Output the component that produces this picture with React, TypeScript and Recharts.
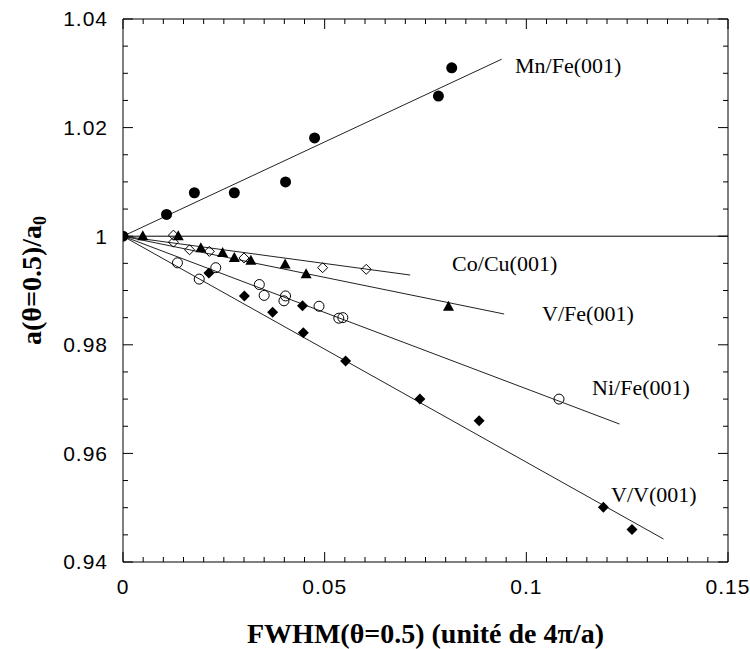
import {
  ComposedChart,
  XAxis,
  YAxis,
  Scatter,
  Line,
  ReferenceLine,
  ReferenceDot,
} from "recharts";

// axis ticks
const xTicks = [
  0, 0.005, 0.01, 0.015, 0.02, 0.025, 0.03, 0.035, 0.04, 0.045, 0.05, 0.055,
  0.06, 0.065, 0.07, 0.075, 0.08, 0.085, 0.09, 0.095, 0.1, 0.105, 0.11, 0.115,
  0.12, 0.125, 0.13, 0.135, 0.14, 0.145, 0.15,
];
const yTicks = [
  0.94, 0.945, 0.95, 0.955, 0.96, 0.965, 0.97, 0.975, 0.98, 0.985, 0.99, 0.995,
  1, 1.005, 1.01, 1.015, 1.02, 1.025, 1.03, 1.035, 1.04,
];

// Mn/Fe(001) - filled circles
const mnFeX = [0, 0.0108, 0.0177, 0.0276, 0.0403, 0.0475, 0.0782, 0.0815];
const mnFeY = [1.0, 1.004, 1.008, 1.008, 1.01, 1.0181, 1.0258, 1.031];
const mnFeFitX = [0, 0.0939];
const mnFeFitY = [1, 1.0326];

// Co/Cu(001) - open diamonds
const coCuX = [0.0125, 0.0125, 0.0165, 0.0214, 0.03, 0.0495, 0.0603];
const coCuY = [1.0002, 0.9989, 0.9975, 0.9972, 0.996, 0.9942, 0.9939];
const coCuFitX = [0, 0.0712];
const coCuFitY = [1, 0.99285];

// V/Fe(001) - filled triangles
const vFeX = [0.0049, 0.0137, 0.0193, 0.0247, 0.0276, 0.0317, 0.0402, 0.0454, 0.0807];
const vFeY = [1.0, 1.0, 0.9978, 0.9969, 0.996, 0.9955, 0.9948, 0.993, 0.987];
const vFeFitX = [0, 0.0945];
const vFeFitY = [1, 0.98567];

// Ni/Fe(001) - open circles
const niFeX = [0.0135, 0.0189, 0.023, 0.0338, 0.035, 0.0403, 0.0399, 0.0486, 0.0535, 0.0545, 0.1081];
const niFeY = [0.9951, 0.9921, 0.9942, 0.9911, 0.9891, 0.989, 0.9881, 0.9871, 0.9849, 0.985, 0.97];
const niFeFitX = [0, 0.1231];
const niFeFitY = [1, 0.96541];

// V/V(001) - filled diamonds
const vvX = [0.0213, 0.0301, 0.0371, 0.0445, 0.0447, 0.0552, 0.0736, 0.0883, 0.1191, 0.1262];
const vvY = [0.9932, 0.989, 0.986, 0.9872, 0.9822, 0.977, 0.97, 0.966, 0.9501, 0.946];
const vvFitX = [0, 0.134];
const vvFitY = [1, 0.94424];

// curve labels
const curveNames = ["Mn/Fe(001)", "Co/Cu(001)", "V/Fe(001)", "Ni/Fe(001)", "V/V(001)"];
const curveLabelX = [0.0972, 0.0816, 0.1039, 0.1163, 0.121];
const curveLabelY = [1.0315, 0.99506, 0.98585, 0.97222, 0.95241];

const pts = (xs: number[], ys: number[]) => xs.map((x, i) => ({ x, y: ys[i] }));

const SERIF = "'Liberation Serif', 'Times New Roman', serif";
const SANS = "'Liberation Sans', Arial, sans-serif";

const isMajor = (v: number, step: number) =>
  Math.abs(v / step - Math.round(v / step)) < 1e-6;
const fmt = (v: number) => String(Math.round(v * 1000) / 1000);

function BottomTick(props: any) {
  const { x, y, payload } = props;
  const major = isMajor(payload.value, 0.05);
  return (
    <g>
      <line x1={x} y1={y} x2={x} y2={y - (major ? 10 : 5)} stroke="#000" />
      {major && (
        <text x={x} y={y + 25} dy="0.35em" textAnchor="middle" fontFamily={SANS}
          fontSize={21} letterSpacing={1} fill="#000">
          {fmt(payload.value)}
        </text>
      )}
    </g>
  );
}

function TopTick(props: any) {
  const { x, y, payload } = props;
  const major = isMajor(payload.value, 0.05);
  return <line x1={x} y1={y} x2={x} y2={y + (major ? 10 : 5)} stroke="#000" />;
}

function LeftTick(props: any) {
  const { x, y, payload } = props;
  const major = isMajor(payload.value, 0.02);
  return (
    <g>
      <line x1={x} y1={y} x2={x + (major ? 10 : 5)} y2={y} stroke="#000" />
      {major && (
        <text x={x - 15} y={y} dy="0.35em" textAnchor="end" fontFamily={SANS}
          fontSize={21} letterSpacing={1} fill="#000">
          {fmt(payload.value)}
        </text>
      )}
    </g>
  );
}

function RightTick(props: any) {
  const { x, y, payload } = props;
  const major = isMajor(payload.value, 0.02);
  return <line x1={x} y1={y} x2={x - (major ? 10 : 5)} y2={y} stroke="#000" />;
}

const FilledCircle = (p: any) => <circle cx={p.cx} cy={p.cy} r={5.5} fill="#000" />;
const OpenCircle = (p: any) => (
  <circle cx={p.cx} cy={p.cy} r={5} fill="none" stroke="#000" strokeWidth={1} />
);
const FilledTriangle = (p: any) => (
  <polygon
    points={`${p.cx},${p.cy - 6} ${p.cx - 5.5},${p.cy + 4} ${p.cx + 5.5},${p.cy + 4}`}
    fill="#000"
  />
);
const OpenDiamond = (p: any) => (
  <polygon
    points={`${p.cx},${p.cy - 5} ${p.cx + 5},${p.cy} ${p.cx},${p.cy + 5} ${p.cx - 5},${p.cy}`}
    fill="none" stroke="#000" strokeWidth={1}
  />
);
const FilledDiamond = (p: any) => (
  <polygon
    points={`${p.cx},${p.cy - 5.5} ${p.cx + 5.5},${p.cy} ${p.cx},${p.cy + 5.5} ${p.cx - 5.5},${p.cy}`}
    fill="#000"
  />
);

const fits = [
  pts(mnFeFitX, mnFeFitY),
  pts(coCuFitX, coCuFitY),
  pts(vFeFitX, vFeFitY),
  pts(niFeFitX, niFeFitY),
  pts(vvFitX, vvFitY),
];

export default function App() {
  return (
    <div style={{ position: "absolute", left: 0, top: 0, width: 750, height: 649, background: "#fff" }}>
      <ComposedChart width={750} height={649} margin={{ top: 0, right: 0, bottom: 0, left: 0 }}>
        <XAxis
          xAxisId="b" dataKey="x" type="number" orientation="bottom" domain={[0, 0.15]}
          allowDataOverflow ticks={xTicks} interval={0} height={87} tickSize={0} tickMargin={0}
          tickLine={false} axisLine={{ stroke: "#000" }} tick={<BottomTick />}
          label={(p: any) => (
            <text x={p.viewBox.x + p.viewBox.width / 2} y={p.viewBox.y + 71} dy="0.35em"
              textAnchor="middle" fontFamily={SERIF} fontWeight="bold" fontSize={28} fill="#000">
              FWHM(θ=0.5) (unité de 4π/a)
            </text>
          )}
        />
        <XAxis
          xAxisId="t" dataKey="x" type="number" orientation="top" domain={[0, 0.15]}
          allowDataOverflow ticks={xTicks} interval={0} height={19} tickSize={0} tickMargin={0}
          tickLine={false} axisLine={{ stroke: "#000" }} tick={<TopTick />}
        />
        <YAxis
          yAxisId="l" dataKey="y" type="number" orientation="left" domain={[0.94, 1.04]}
          allowDataOverflow ticks={yTicks} interval={0} width={123} tickSize={0} tickMargin={0}
          tickLine={false} axisLine={{ stroke: "#000" }} tick={<LeftTick />}
          label={(p: any) => {
            const cx = p.viewBox.x + 31;
            const cy = p.viewBox.y + p.viewBox.height / 2 - 10;
            return (
              <text x={cx} y={cy} dy="0.35em" textAnchor="middle" transform={`rotate(-90, ${cx}, ${cy})`}
                fontFamily={SERIF} fontWeight="bold" fontSize={28} fill="#000">
                a(θ=0.5)/a<tspan fontSize={18} dy={5}>0</tspan>
              </text>
            );
          }}
        />
        <YAxis
          yAxisId="r" dataKey="y" type="number" orientation="right" domain={[0.94, 1.04]}
          allowDataOverflow ticks={yTicks} interval={0} width={22} tickSize={0} tickMargin={0}
          tickLine={false} axisLine={{ stroke: "#000" }} tick={<RightTick />}
        />

        <ReferenceLine xAxisId="b" yAxisId="l" y={1} stroke="#000" strokeWidth={1} />

        {fits.map((d, i) => (
          <Line
            key={i} xAxisId="b" yAxisId="l" data={d} dataKey="y" stroke="#222" strokeWidth={1}
            dot={false} activeDot={false} isAnimationActive={false} legendType="none"
          />
        ))}

        <Scatter xAxisId="b" yAxisId="l" data={pts(mnFeX, mnFeY)} shape={FilledCircle} isAnimationActive={false} />
        <Scatter xAxisId="b" yAxisId="l" data={pts(coCuX, coCuY)} shape={OpenDiamond} isAnimationActive={false} />
        <Scatter xAxisId="b" yAxisId="l" data={pts(vFeX, vFeY)} shape={FilledTriangle} isAnimationActive={false} />
        <Scatter xAxisId="b" yAxisId="l" data={pts(niFeX, niFeY)} shape={OpenCircle} isAnimationActive={false} />
        <Scatter xAxisId="b" yAxisId="l" data={pts(vvX, vvY)} shape={FilledDiamond} isAnimationActive={false} />

        {curveNames.map((name, i) => (
          <ReferenceDot
            key={name} xAxisId="b" yAxisId="l" x={curveLabelX[i]} y={curveLabelY[i]} r={0}
            fill="none" stroke="none"
            label={(p: any) => (
              <text x={p.viewBox.x} y={p.viewBox.y + p.viewBox.height / 2} dy="0.35em"
                fontFamily={SERIF} fontSize={22} fill="#000">
                {name}
              </text>
            )}
          />
        ))}
      </ComposedChart>
    </div>
  );
}
